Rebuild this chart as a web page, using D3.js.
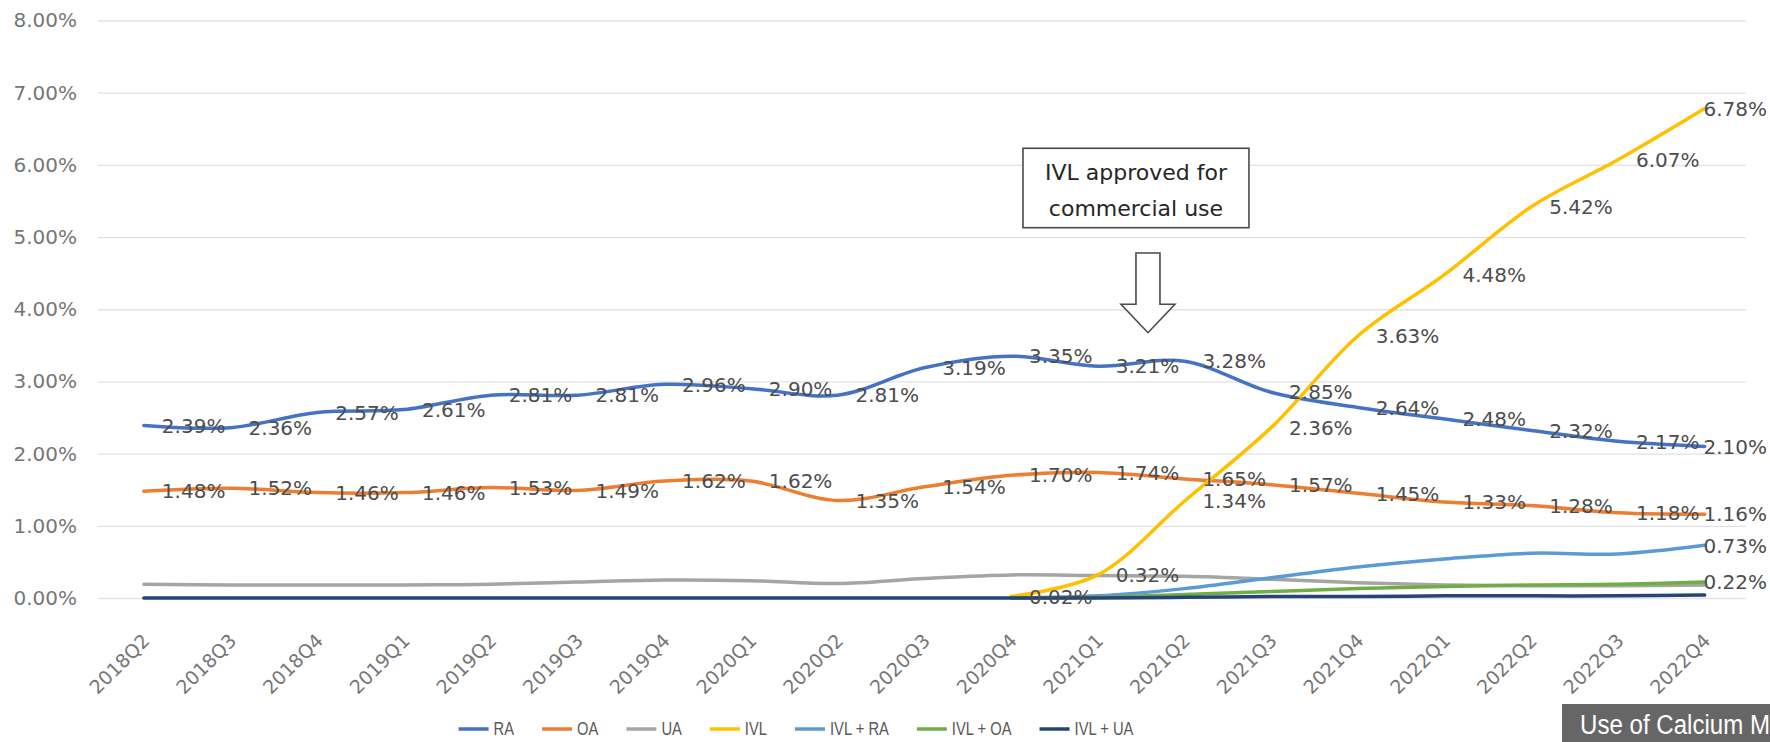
<!DOCTYPE html>
<html>
<head>
<meta charset="utf-8">
<script src="https://cdn.jsdelivr.net/npm/d3@7"></script>
<style>
  body { margin: 0; background: #fff; }
  svg { display: block; }
</style>
</head>
<body>
<script>
const W = 1770, H = 742

// data, values in percent
const categories = ["2018Q2", "2018Q3", "2018Q4", "2019Q1", "2019Q2", "2019Q3", "2019Q4",
    "2020Q1", "2020Q2", "2020Q3", "2020Q4", "2021Q1", "2021Q2", "2021Q3", "2021Q4",
    "2022Q1", "2022Q2", "2022Q3", "2022Q4"]
const ra = [2.39, 2.36, 2.57, 2.61, 2.81, 2.81, 2.96, 2.90, 2.81, 3.19, 3.35, 3.21, 3.28, 2.85, 2.64, 2.48, 2.32, 2.17, 2.10]
const oa = [1.48, 1.52, 1.46, 1.46, 1.53, 1.49, 1.62, 1.62, 1.35, 1.54, 1.70, 1.74, 1.65, 1.57, 1.45, 1.33, 1.28, 1.18, 1.16]
const ua = [0.19, 0.18, 0.18, 0.18, 0.19, 0.22, 0.25, 0.24, 0.20, 0.27, 0.32, 0.31, 0.30, 0.26, 0.21, 0.18, 0.17, 0.17, 0.18]
const ivl = [null, null, null, null, null, null, null, null, null, null, 0.02, 0.32, 1.34, 2.36, 3.63, 4.48, 5.42, 6.07, 6.78]
const ivlRa = [null, null, null, null, null, null, null, null, null, null, 0.00, 0.03, 0.13, 0.28, 0.43, 0.54, 0.62, 0.61, 0.73]
const ivlOa = [null, null, null, null, null, null, null, null, null, null, 0.00, 0.01, 0.05, 0.09, 0.13, 0.16, 0.18, 0.19, 0.22]
const ivlUa = [0, 0, 0, 0, 0, 0, 0, 0, 0, 0, 0.00, 0.00, 0.01, 0.02, 0.02, 0.03, 0.03, 0.03, 0.04]
const yTicks = [0, 1, 2, 3, 4, 5, 6, 7, 8]

const series = [
    {name: "RA", values: ra, color: "#4472C4", labels: "all"},
    {name: "OA", values: oa, color: "#ED7D31", labels: "all"},
    {name: "UA", values: ua, color: "#A5A5A5", labels: "none"},
    {name: "IVL", values: ivl, color: "#FFC000", labels: "all"},
    {name: "IVL + RA", values: ivlRa, color: "#5B9BD5", labels: "last"},
    {name: "IVL + OA", values: ivlOa, color: "#70AD47", labels: "last"},
    {name: "IVL + UA", values: ivlUa, color: "#264478", labels: "none"}
]

const svg = d3.select("body").append("svg")
    .attr("width", W)
    .attr("height", H)

const x = d3.scaleBand().domain(categories).range([100.5, 1748])
const px = c => x(c) + x.bandwidth() / 2
const y = d3.scaleLinear().domain([0, 8]).range([598, 20.5])
const gridLeft = 98, gridRight = 1746

// y axis + gridlines
const yAxis = svg.append("g")
    .attr("transform", `translate(${gridLeft},0)`)
    .call(d3.axisLeft(y)
        .tickValues(yTicks)
        .tickFormat(d => d.toFixed(2) + "%")
        .tickSize(-(gridRight - gridLeft))
        .tickPadding(21))
yAxis.select(".domain").remove()
yAxis.selectAll("line").attr("stroke", "#e2e2e2").attr("stroke-width", 1.3)
yAxis.selectAll("text")
    .attr("fill", "#767676")
    .style("font-family", "DejaVu Sans")
    .style("font-size", "20px")

// x axis
const xAxis = svg.append("g")
    .attr("transform", `translate(0,${y(0)})`)
    .call(d3.axisBottom(x).tickSize(0))
xAxis.select(".domain").remove()
xAxis.selectAll("text")
    .attr("x", 0).attr("y", 0).attr("dy", 0)
    .attr("text-anchor", "end")
    .attr("transform", "translate(7,44) rotate(-45)")
    .attr("fill", "#767676")
    .style("font-family", "DejaVu Sans")
    .style("font-size", "19px")

// lines
const line = d3.line()
    .defined(d => d != null)
    .x((d, i) => px(categories[i]))
    .y(d => y(d))
    .curve(d3.curveCatmullRom.alpha(0.5))

svg.append("g").selectAll("path")
    .data(series)
    .join("path")
    .attr("d", s => line(s.values))
    .attr("fill", "none")
    .attr("stroke", s => s.color)
    .attr("stroke-width", 3.5)
    .attr("stroke-linejoin", "round")
    .attr("stroke-linecap", "round")

// data labels
const labelData = []
for (const s of series) {
    s.values.forEach((v, i) => {
        if (v == null) return
        if (s.labels === "all" || (s.labels === "last" && i === s.values.length - 1)) {
            labelData.push({v: v, c: categories[i]})
        }
    })
}
svg.append("g").selectAll("text")
    .data(labelData)
    .join("text")
    .attr("x", d => px(d.c) + 18)
    .attr("y", d => y(d.v))
    .attr("dy", "0.36em")
    .attr("fill", "#4d4d4d")
    .style("font-family", "DejaVu Sans")
    .style("font-size", "20px")
    .text(d => d.v.toFixed(2) + "%")
    .each(function() {
        const w = this.getComputedTextLength()
        const lx = +this.getAttribute("x")
        if (lx + w > W - 3) this.setAttribute("x", W - 3 - w)
    })

// annotation box and arrow
const arrowX = px("2021Q1") + 0.58 * x.step()
const boxX = arrowX - 12
const note = svg.append("g")
note.append("rect")
    .attr("x", boxX - 113).attr("y", y(6.23))
    .attr("width", 226).attr("height", y(5.13) - y(6.23))
    .attr("fill", "#fff").attr("stroke", "#4a4a4a").attr("stroke-width", 1.6)
note.selectAll("text")
    .data(["IVL approved for", "commercial use"])
    .join("text")
    .attr("x", boxX)
    .attr("y", (d, i) => y(6.23) + 32 + i * 36)
    .attr("text-anchor", "middle")
    .attr("fill", "#262626")
    .style("font-family", "DejaVu Sans")
    .style("font-size", "22px")
    .text(d => d)
const aTop = y(4.78), aNeck = y(4.07), aTip = y(3.675)
note.append("polygon")
    .attr("points", [
        [arrowX - 12, aTop], [arrowX + 12, aTop], [arrowX + 12, aNeck], [arrowX + 27, aNeck],
        [arrowX, aTip], [arrowX - 27, aNeck], [arrowX - 12, aNeck]
    ].join(" "))
    .attr("fill", "#fff").attr("stroke", "#4a4a4a").attr("stroke-width", 1.6)
    .attr("stroke-linejoin", "miter")

// legend
const legend = svg.append("g")
const items = legend.selectAll("g")
    .data(series)
    .join("g")
items.append("line")
    .attr("x1", 0).attr("x2", 30).attr("y1", 0).attr("y2", 0)
    .attr("stroke", s => s.color).attr("stroke-width", 3.5)
items.append("text")
    .attr("transform", "translate(35,6) scale(0.82,1)")
    .attr("fill", "#595959")
    .style("font-family", "Liberation Sans")
    .style("font-size", "18px")
    .text(s => s.name)
let cursor = 0
items.each(function() {
    const w = d3.select(this).select("text").node().getComputedTextLength() * 0.82
    d3.select(this).attr("transform", `translate(${cursor},0)`)
    cursor += 35 + w + 28
})
const legendWidth = cursor - 28
legend.attr("transform", `translate(${796 - legendWidth / 2},729)`)

// caption tab at bottom right
svg.append("rect")
    .attr("x", 1562).attr("y", 704).attr("width", W - 1562).attr("height", H - 704)
    .attr("fill", "#666666")
svg.append("text")
    .attr("transform", "translate(1580,734) scale(0.86,1)")
    .attr("fill", "#fff")
    .style("font-family", "Liberation Sans")
    .style("font-size", "28px")
    .text("Use of Calcium M")
</script>
</body>
</html>
